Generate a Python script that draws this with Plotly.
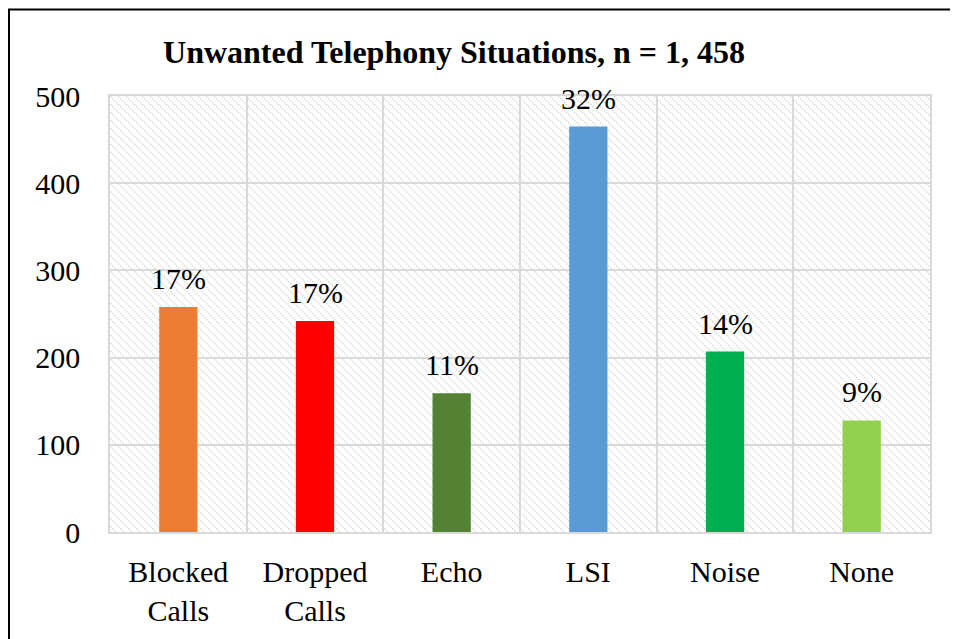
import base64
import plotly.graph_objects as go

categories = ["Blocked<br>Calls", "Dropped<br>Calls", "Echo", "LSI", "Noise", "None"]
counts = [258, 242, 159, 465, 207, 128]
pct_labels = ["17%", "17%", "11%", "32%", "14%", "9%"]
bar_colors = ["#ED7D31", "#FF0000", "#548235", "#5B9BD5", "#00B050", "#92D050"]
y_ticks = [0, 100, 200, 300, 400, 500]

# page has an 8px body margin, so the figure is sized to fit the window
W, H = 950, 631
L, R, T, B = 102, 28, 88, 105
PW, PH = W - L - R, H - T - B

svg = (
    f'<svg xmlns="http://www.w3.org/2000/svg" width="{PW}" height="{PH}" viewBox="0 0 {PW} {PH}" preserveAspectRatio="none">'
    '<defs><pattern id="p" width="8" height="8" patternUnits="userSpaceOnUse">'
    '<rect x="0" y="0" width="1.4" height="1.4" fill="#d4d4d4"/>'
    '<rect x="2" y="2" width="1.4" height="1.4" fill="#d4d4d4"/>'
    '<rect x="4" y="4" width="1.4" height="1.4" fill="#d4d4d4"/>'
    '<rect x="6" y="6" width="1.4" height="1.4" fill="#d4d4d4"/>'
    '</pattern></defs>'
    f'<rect width="{PW}" height="{PH}" fill="url(#p)"/></svg>'
)
src = "data:image/svg+xml;base64," + base64.b64encode(svg.encode()).decode()

font = "Liberation Serif, Times New Roman, serif"

fig = go.Figure(
    go.Bar(
        x=categories,
        y=counts,
        marker=dict(color=bar_colors, line=dict(width=0)),
        width=0.28,
        cliponaxis=False,
    )
)

for cat, val, lab in zip(categories, counts, pct_labels):
    fig.add_annotation(
        x=cat,
        y=val,
        text=lab,
        showarrow=False,
        xanchor="center",
        yanchor="bottom",
        yshift=10,
        font=dict(family=font, size=30, color="#000000"),
    )

def px_x(p):
    return (p - L) / PW

def px_y(p):
    return (H - B - p) / PH

fig.update_layout(
    width=W,
    height=H,
    margin=dict(l=L, r=R, t=T, b=B),
    paper_bgcolor="white",
    plot_bgcolor="white",
    showlegend=False,
    font=dict(family=font, size=30, color="#000000"),
    title=dict(
        text="<b>Unwanted Telephony Situations, n = 1, 458</b>",
        font=dict(family=font, size=32, color="#000000"),
        x=446 / W,
        xref="container",
        xanchor="center",
        y=1 - 44 / H,
        yref="container",
        yanchor="middle",
    ),
    images=[
        dict(
            source=src,
            xref="paper",
            yref="paper",
            x=0,
            y=1,
            sizex=1,
            sizey=1,
            xanchor="left",
            yanchor="top",
            sizing="stretch",
            layer="below",
        )
    ],
    shapes=[
        dict(
            type="rect",
            xref="paper",
            yref="paper",
            x0=px_x(1),
            x1=px_x(980),
            y0=px_y(680),
            y1=px_y(1),
            line=dict(color="#000000", width=2),
            fillcolor="rgba(0,0,0,0)",
            layer="above",
        )
    ],
)

fig.update_xaxes(
    type="category",
    tickson="boundaries",
    showgrid=True,
    gridcolor="#d9d9d9",
    gridwidth=1.5,
    showline=True,
    linecolor="#d9d9d9",
    linewidth=1.5,
    mirror=True,
    ticks="",
    ticklabelstandoff=12,
    tickfont=dict(family=font, size=30, color="#000000"),
)
fig.update_yaxes(
    range=[0, 500],
    tickvals=y_ticks,
    showgrid=True,
    gridcolor="#d9d9d9",
    gridwidth=1.5,
    showline=True,
    linecolor="#d9d9d9",
    linewidth=1.5,
    mirror=True,
    zeroline=False,
    ticks="",
    ticklabelstandoff=22,
    tickfont=dict(family=font, size=30, color="#000000"),
)

fig.write_html("out.html")
